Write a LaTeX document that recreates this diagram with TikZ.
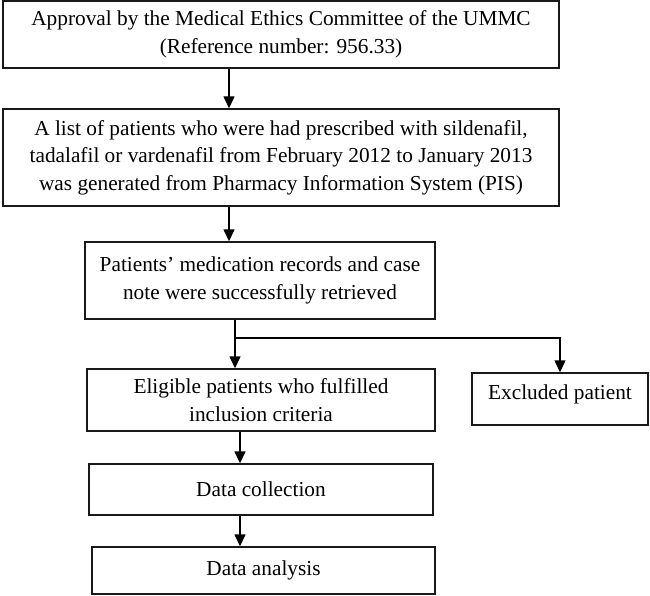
\documentclass[tikz,border=0pt]{standalone}
\usepackage{fontspec}
\setmainfont{Liberation Serif}
\usepackage{tikz}
\usetikzlibrary{arrows.meta}

\begin{document}
\begin{tikzpicture}[x=1pt, y=-1pt,
        stage/.style={draw=black!90, line width=1.4pt, inner sep=0pt, align=center,
                      font=\fontsize{21.3}{27.5}\selectfont},
        flow/.style={line width=1.4pt, -{Triangle[length=12pt, width=11pt]}}]
                \useasboundingbox (0,0) rectangle (650,596);

                %% approval and list
                \node[stage, minimum width=556, minimum height=67] (appr) at (281,34.5)
                    {Approval by the Medical Ethics Committee of the UMMC\\(Reference number: 956.33)};
                \node[stage, minimum width=556, minimum height=97] (list) at (281,157.5)
                    {A list of patients who were had prescribed with sildenafil,\\tadalafil or vardenafil from February 2012 to January 2013\\was generated from Pharmacy Information System (PIS)};

                %% records
                \node[stage, minimum width=350, minimum height=77] (recs) at (260,280.5)
                    {Patients’ medication records and case\\note were successfully retrieved};

                %% eligible / excluded
                \node[stage, minimum width=348, minimum height=62] (elig) at (261,400)
                    {Eligible patients who fulfilled\\inclusion criteria};
                \node[stage, minimum width=176, minimum height=52, text depth=14pt] (excl) at (560,399)
                    {Excluded patient};

                %% data
                \node[stage, minimum width=344, minimum height=51] (coll) at (261,489.5) {Data collection};
                \node[stage, minimum width=343, minimum height=47] (anal) at (263.5,570.5) {Data analysis};

                %% arrows
                \coordinate (trunk) at (229,0);
                \coordinate (split) at (235,338);
                \coordinate (tail) at (240,0);
                \draw[flow] (appr.south -| trunk) -- (list.north -| trunk);
                \draw[flow] (list.south -| trunk) -- (recs.north -| trunk);
                \draw[flow] (recs.south -| split) -- (elig.north -| split);
                \draw[flow] (split) -| (excl.north);
                \draw[flow] (elig.south -| tail) -- (coll.north -| tail);
                \draw[flow] (coll.south -| tail) -- (anal.north -| tail);

\end{tikzpicture}
\end{document}
